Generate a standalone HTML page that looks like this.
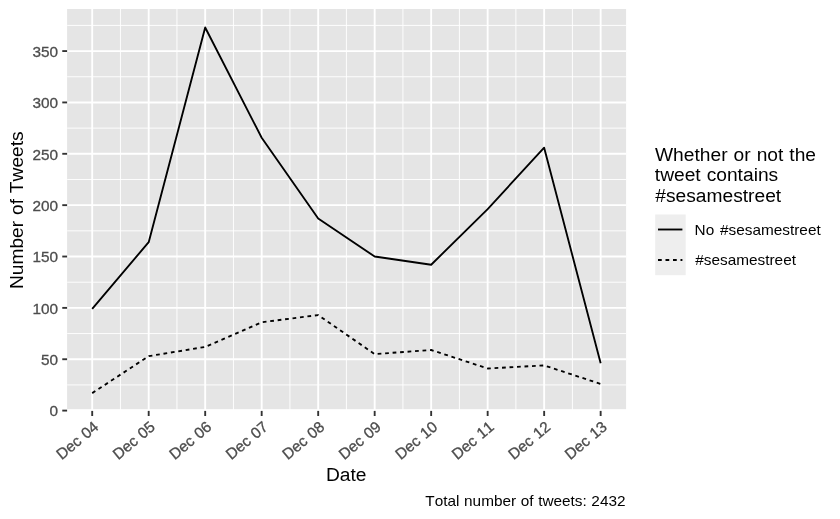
<!DOCTYPE html>
<html lang="en"><head><meta charset="utf-8"><title>Number of Tweets by Date</title>
<style>html,body{margin:0;padding:0;background:#fff}svg{display:block;will-change:transform;opacity:0.9999}text{font-family:"Liberation Sans",Arial,Helvetica,sans-serif;word-spacing:0.7px;font-kerning:none}.big{word-spacing:0.5px}.cap{word-spacing:0.35px}.l1{word-spacing:1.6px}</style></head><body>
<svg width="840" height="519" viewBox="0 0 840 519">
<rect width="840" height="519" fill="#ffffff"/>
<defs><clipPath id="pc"><rect x="67.1" y="9.0" width="559.00" height="401.40"/></clipPath></defs>
<rect x="67.1" y="9.0" width="559.00" height="400.20" fill="#E5E5E5"/>
<g clip-path="url(#pc)" fill="none">
<g stroke="#ffffff" stroke-width="0.94">
<line x1="67.1" x2="626.1" y1="384.92" y2="384.92"/>
<line x1="67.1" x2="626.1" y1="333.56" y2="333.56"/>
<line x1="67.1" x2="626.1" y1="282.20" y2="282.20"/>
<line x1="67.1" x2="626.1" y1="230.84" y2="230.84"/>
<line x1="67.1" x2="626.1" y1="179.48" y2="179.48"/>
<line x1="67.1" x2="626.1" y1="128.12" y2="128.12"/>
<line x1="67.1" x2="626.1" y1="76.76" y2="76.76"/>
<line x1="67.1" x2="626.1" y1="25.40" y2="25.40"/>
<line x1="120.45" x2="120.45" y1="9.0" y2="410.4"/>
<line x1="176.94" x2="176.94" y1="9.0" y2="410.4"/>
<line x1="233.44" x2="233.44" y1="9.0" y2="410.4"/>
<line x1="289.93" x2="289.93" y1="9.0" y2="410.4"/>
<line x1="346.42" x2="346.42" y1="9.0" y2="410.4"/>
<line x1="402.92" x2="402.92" y1="9.0" y2="410.4"/>
<line x1="459.41" x2="459.41" y1="9.0" y2="410.4"/>
<line x1="515.90" x2="515.90" y1="9.0" y2="410.4"/>
<line x1="572.40" x2="572.40" y1="9.0" y2="410.4"/>
</g>
<g stroke="#ffffff" stroke-width="1.87">
<line x1="67.1" x2="626.1" y1="410.60" y2="410.60"/>
<line x1="67.1" x2="626.1" y1="359.24" y2="359.24"/>
<line x1="67.1" x2="626.1" y1="307.88" y2="307.88"/>
<line x1="67.1" x2="626.1" y1="256.52" y2="256.52"/>
<line x1="67.1" x2="626.1" y1="205.16" y2="205.16"/>
<line x1="67.1" x2="626.1" y1="153.80" y2="153.80"/>
<line x1="67.1" x2="626.1" y1="102.44" y2="102.44"/>
<line x1="67.1" x2="626.1" y1="51.08" y2="51.08"/>
<line x1="92.20" x2="92.20" y1="9.0" y2="410.4"/>
<line x1="148.69" x2="148.69" y1="9.0" y2="410.4"/>
<line x1="205.19" x2="205.19" y1="9.0" y2="410.4"/>
<line x1="261.68" x2="261.68" y1="9.0" y2="410.4"/>
<line x1="318.18" x2="318.18" y1="9.0" y2="410.4"/>
<line x1="374.67" x2="374.67" y1="9.0" y2="410.4"/>
<line x1="431.16" x2="431.16" y1="9.0" y2="410.4"/>
<line x1="487.66" x2="487.66" y1="9.0" y2="410.4"/>
<line x1="544.15" x2="544.15" y1="9.0" y2="410.4"/>
<line x1="600.65" x2="600.65" y1="9.0" y2="410.4"/>
</g>
<polyline points="92.20,308.91 148.69,242.14 205.19,27.45 261.68,137.78 318.18,218.51 374.67,256.52 431.16,264.74 487.66,209.06 544.15,147.64 600.65,363.35" stroke="#000" stroke-width="1.87" stroke-linejoin="round" stroke-linecap="butt"/>
<polyline points="92.20,393.14 148.69,356.16 205.19,346.91 261.68,322.26 318.18,315.07 374.67,354.10 431.16,350.00 487.66,368.48 544.15,365.40 600.65,383.89" stroke="#000" stroke-width="1.87" stroke-linejoin="round" stroke-linecap="butt" stroke-dasharray="3.75 3.75"/>
</g>
<g stroke="#333333" stroke-width="1.87">
<line x1="62.27" x2="67.1" y1="410.60" y2="410.60"/>
<line x1="62.27" x2="67.1" y1="359.24" y2="359.24"/>
<line x1="62.27" x2="67.1" y1="307.88" y2="307.88"/>
<line x1="62.27" x2="67.1" y1="256.52" y2="256.52"/>
<line x1="62.27" x2="67.1" y1="205.16" y2="205.16"/>
<line x1="62.27" x2="67.1" y1="153.80" y2="153.80"/>
<line x1="62.27" x2="67.1" y1="102.44" y2="102.44"/>
<line x1="62.27" x2="67.1" y1="51.08" y2="51.08"/>
<line x1="92.20" x2="92.20" y1="410.9" y2="416.0"/>
<line x1="148.69" x2="148.69" y1="410.9" y2="416.0"/>
<line x1="205.19" x2="205.19" y1="410.9" y2="416.0"/>
<line x1="261.68" x2="261.68" y1="410.9" y2="416.0"/>
<line x1="318.18" x2="318.18" y1="410.9" y2="416.0"/>
<line x1="374.67" x2="374.67" y1="410.9" y2="416.0"/>
<line x1="431.16" x2="431.16" y1="410.9" y2="416.0"/>
<line x1="487.66" x2="487.66" y1="410.9" y2="416.0"/>
<line x1="544.15" x2="544.15" y1="410.9" y2="416.0"/>
<line x1="600.65" x2="600.65" y1="410.9" y2="416.0"/>
</g>
<g font-size="15.35" fill="#4D4D4D" stroke="#4D4D4D" stroke-width="0.3" text-anchor="end">
<text x="58.1" y="416.40">0</text>
<text x="58.1" y="365.04">50</text>
<text x="58.1" y="313.68">100</text>
<text x="58.1" y="262.32">150</text>
<text x="58.1" y="210.96">200</text>
<text x="58.1" y="159.60">250</text>
<text x="58.1" y="108.24">300</text>
<text x="58.1" y="56.88">350</text>
</g>
<g font-size="15.35" fill="#4D4D4D" stroke="#4D4D4D" stroke-width="0.3" text-anchor="end">
<text transform="translate(92.50,420.2) rotate(-40)" x="0" y="11.0">Dec 04</text>
<text transform="translate(148.99,420.2) rotate(-40)" x="0" y="11.0">Dec 05</text>
<text transform="translate(205.49,420.2) rotate(-40)" x="0" y="11.0">Dec 06</text>
<text transform="translate(261.98,420.2) rotate(-40)" x="0" y="11.0">Dec 07</text>
<text transform="translate(318.48,420.2) rotate(-40)" x="0" y="11.0">Dec 08</text>
<text transform="translate(374.97,420.2) rotate(-40)" x="0" y="11.0">Dec 09</text>
<text transform="translate(431.46,420.2) rotate(-40)" x="0" y="11.0">Dec 10</text>
<text transform="translate(487.96,420.2) rotate(-40)" x="0" y="11.0">Dec 11</text>
<text transform="translate(544.45,420.2) rotate(-40)" x="0" y="11.0">Dec 12</text>
<text transform="translate(600.95,420.2) rotate(-40)" x="0" y="11.0">Dec 13</text>
</g>
<text class="big" x="346.2" y="481.3" font-size="19.2" fill="#000" text-anchor="middle">Date</text>
<text class="big" transform="translate(23.1,210.2) rotate(-90)" font-size="19.2" fill="#000" text-anchor="middle">Number of Tweets</text>
<text class="cap" x="625.5" y="506" font-size="15.35" fill="#000" text-anchor="end">Total number of tweets: 2432</text>
<g class="big" font-size="19.2" fill="#000">
<text x="655.0" y="160.7">Whether or not the</text>
<text x="654.8" y="181.2">tweet contains</text>
<text x="655.3" y="201.9">#sesamestreet</text>
</g>
<rect x="655.2" y="214.5" width="30.5" height="60.7" fill="#EEEEEE"/>
<g stroke="#000" stroke-width="1.87" fill="none"><line x1="658.0" x2="682.4" y1="229.5" y2="229.5"/><line x1="658.0" x2="682.4" y1="260.0" y2="260.0" stroke-dasharray="3.75 3.75"/></g>
<g font-size="15.35" fill="#000">
<text class="l1" x="694.6" y="234.7">No #sesamestreet</text>
<text x="695.3" y="265.4">#sesamestreet</text>
</g>
</svg></body></html>
